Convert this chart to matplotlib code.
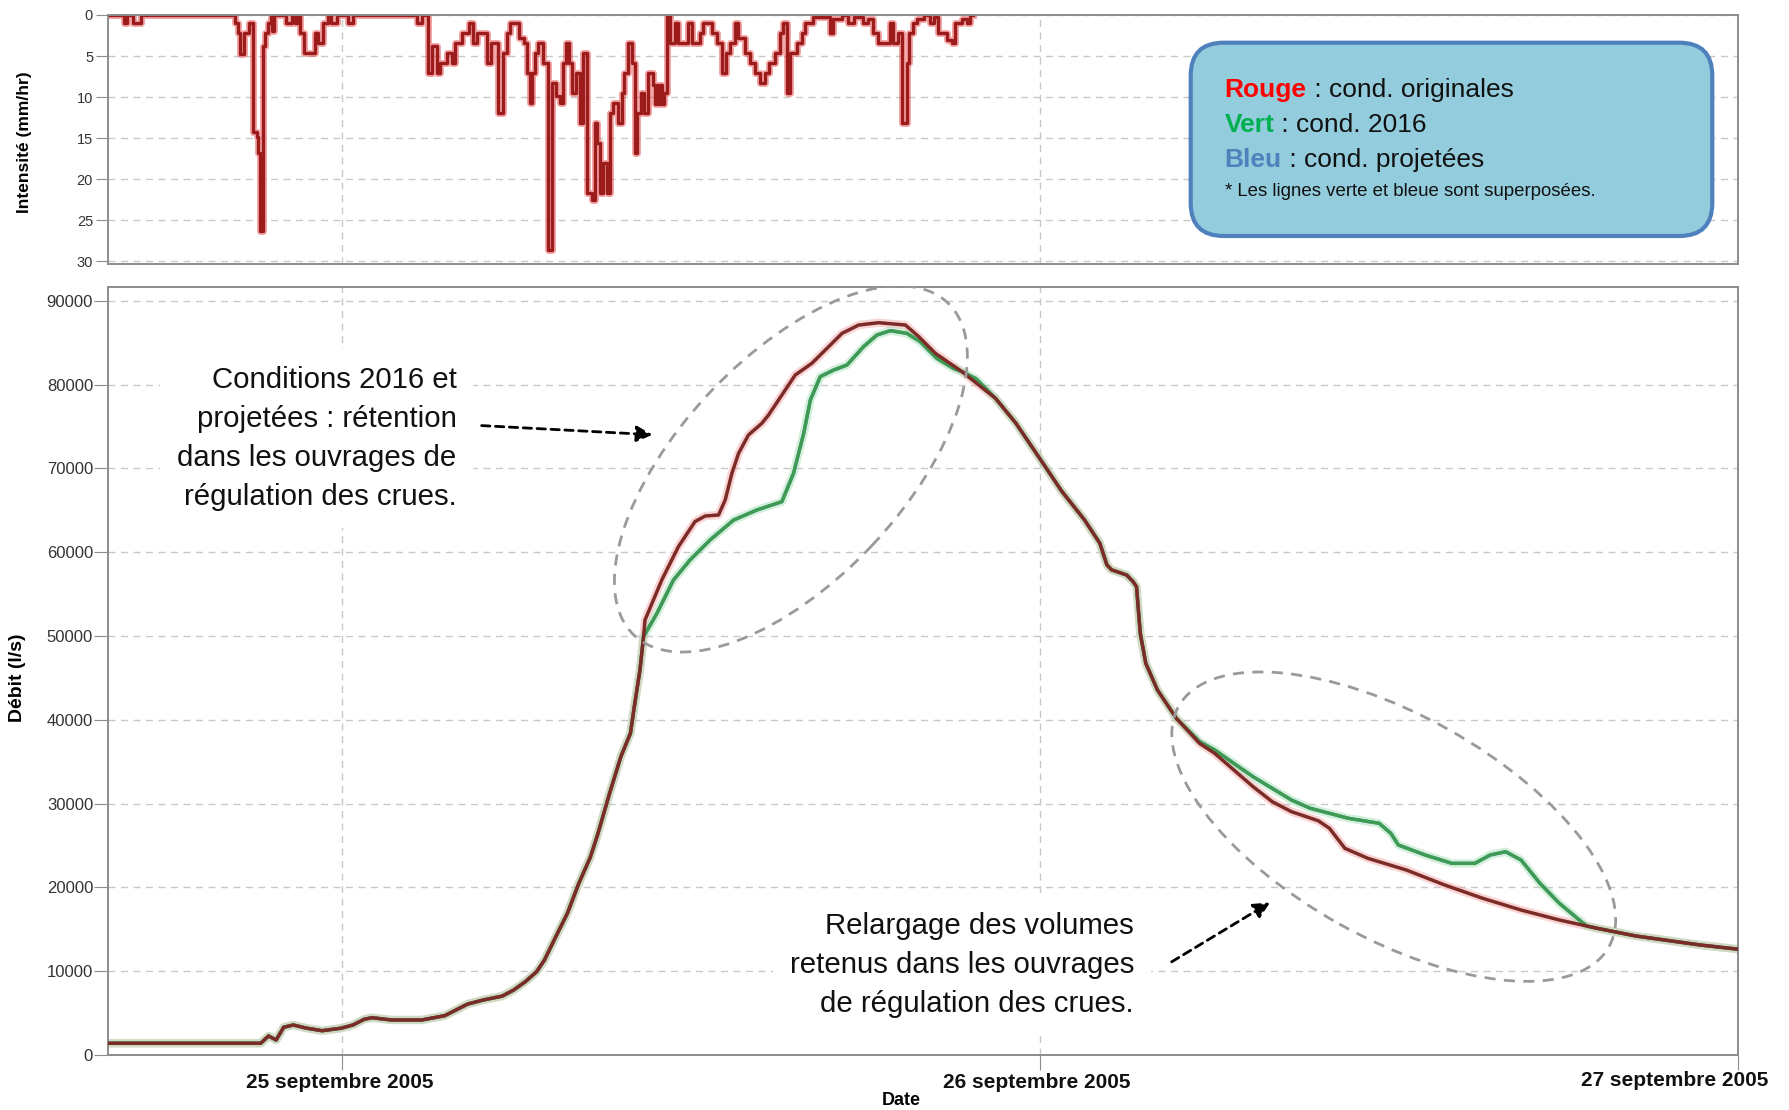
import numpy as np
import matplotlib.pyplot as plt
import matplotlib.transforms as mtransforms
from matplotlib.patches import Ellipse, FancyBboxPatch

plt.rcParams['font.family'] = ['Liberation Sans', 'DejaVu Sans']

# temps en heures depuis le 25 septembre 2005 00h00

# hyetogramme : debut de chaque palier (h) et intensite (mm/hr)
rain_t = [-8.05, -7.53, -7.42, -7.19, -6.94, -3.69, -3.58, -3.52, -3.38, -3.23,
          -3.08, -2.95, -2.89, -2.83, -2.72, -2.66, -2.55, -2.46, -2.42, -2.37,
          -1.95, -1.74, -1.62, -1.55, -1.46, -1.32, -0.94, -0.83, -0.65, -0.48,
          -0.40, -0.20, 0.21, 0.38, 2.55, 2.73, 2.96, 3.07, 3.25, 3.36,
          3.59, 3.76, 3.88, 4.10, 4.34, 4.51, 4.62, 4.97, 5.10, 5.37,
          5.54, 5.65, 5.77, 6.06, 6.25, 6.34, 6.46, 6.51, 6.63, 6.74,
          6.89, 7.09, 7.20, 7.35, 7.47, 7.58, 7.70, 7.78, 7.89, 8.03,
          8.18, 8.29, 8.43, 8.58, 8.69, 8.77, 8.86, 8.98, 9.09, 9.21,
          9.32, 9.49, 9.61, 9.69, 9.84, 9.95, 10.07, 10.15, 10.26, 10.38,
          10.53, 10.70, 10.76, 10.82, 10.88, 10.94, 11.00, 11.06, 11.16, 11.27,
          11.44, 11.56, 11.90, 12.02, 12.30, 12.42, 12.71, 12.88, 13.05, 13.20,
          13.34, 13.51, 13.62, 13.85, 14.03, 14.20, 14.37, 14.54, 14.69, 14.89,
          15.06, 15.17, 15.29, 15.40, 15.63, 15.80, 15.92, 16.20, 16.78, 16.89,
          17.20, 17.40, 17.60, 17.90, 18.10, 18.27, 18.44, 18.84, 18.96, 19.13,
          19.24, 19.41, 19.51, 19.64, 19.76, 20.00, 20.20, 20.35, 20.50, 20.79,
          20.96, 21.08, 21.31, 21.48, 21.59, 21.70]
rain_i = [0, 1, 0, 1, 0, 1, 2.2, 4.8, 2.2, 1,
          14.3, 14.8, 16.8, 26.3, 3.8, 2.2, 1, 0, 2, 0,
          1, 0, 1, 0, 2.2, 4.6, 2.2, 3.4, 1, 0,
          1, 0, 1, 0, 1, 0, 7, 3.8, 7, 5.8,
          4.6, 5.8, 3.4, 2.2, 1, 3.4, 2.2, 5.8, 3.4, 11.9,
          4.6, 2.2, 1, 2.8, 3.4, 7, 10.7, 7, 4.6, 3.4,
          5.8, 28.6, 8.3, 9.9, 10.7, 5.8, 3.4, 5.8, 9.5, 7,
          13.1, 4.6, 21.7, 22.5, 13.1, 15.6, 21.7, 18, 21.7, 11.9,
          10.7, 13.1, 9.5, 7, 3.4, 5.8, 16.8, 11.9, 9.5, 11.9,
          7, 8.5, 10.8, 8.5, 10.8, 8.5, 10.8, 9.5, 0, 3.4,
          1, 3.4, 1, 3.4, 2.2, 1, 2.2, 3.4, 7, 4.6,
          3.4, 1, 2.8, 4.6, 5.8, 7, 8.3, 7, 5.8, 4.6,
          2.2, 1, 9.5, 4.6, 3.4, 2.2, 1, 0.3, 2.2, 0.5,
          0, 1, 0.3, 1, 0.5, 2.2, 3.4, 1, 3.4, 2.2,
          13.1, 5.8, 2.2, 1, 0.5, 0, 1, 0.3, 2.2, 3,
          3.4, 1, 0.5, 1, 0, 0]

# debit - conditions originales (rouge), l/s
red_t = [-8.05, -2.81, -2.54, -2.28, -2.02, -1.69, -1.23, -0.70, -0.04, 0.36,
         0.75, 1.02, 1.68, 2.73, 3.52, 4.31, 4.84, 5.50, 5.89, 6.29,
         6.68, 6.95, 7.34, 7.74, 8.13, 8.53, 8.79, 9.19, 9.58, 9.91,
         10.04, 10.24, 10.36, 10.41, 10.99, 11.56, 12.13, 12.48, 12.94, 13.17,
         13.40, 13.63, 13.97, 14.43, 14.66, 15.12, 15.58, 16.15, 16.73, 17.19,
         17.76, 18.45, 19.37, 19.83, 20.40, 21.32, 22.47, 23.17, 23.96, 24.75,
         25.53, 26.06, 26.30, 26.46, 26.98, 27.20, 27.32, 27.45, 27.64, 28.04,
         28.69, 29.49, 30.01, 30.67, 31.33, 31.99, 32.65, 33.57, 33.96, 34.49,
         35.28, 36.60, 37.92, 39.23, 40.55, 41.87, 43.18, 44.50, 46.71, 48.0]
red_q = [1400, 1400, 2270, 1790, 3310, 3580, 3200, 2900, 3200, 3580,
         4260, 4450, 4180, 4180, 4690, 6080, 6560, 7030, 7750, 8740,
         9930, 11320, 14100, 16900, 20450, 23600, 26400, 31200, 35600, 38400,
         41500, 46000, 49900, 51900, 56700, 60660, 63650, 64320, 64440, 66230,
         69410, 71800, 73990, 75380, 76370, 78760, 81150, 82540, 84530, 86120,
         87110, 87390, 87110, 85720, 83730, 81540, 78360, 75400, 71350, 67270,
         63860, 61060, 58500, 57900, 57280, 56500, 55890, 50320, 46740, 43560,
         40180, 37190, 36000, 34010, 32020, 30230, 29040, 27960, 27050, 24660,
         23470, 22080, 20290, 18700, 17300, 16110, 15110, 14200, 13130, 12630]

# troncons ou la courbe verte (= bleue) s'ecarte de la rouge
green_seg1_t = [10.36, 10.82, 11.39, 11.96, 12.65, 13.46, 14.26, 15.12, 15.52, 15.87,
                16.10, 16.44, 16.90, 17.36, 17.93, 18.39, 18.85, 19.42, 19.88, 20.45,
                21.02, 21.32, 21.80]
green_seg1_q = [49920, 52700, 56680, 59070, 61460, 63840, 65040, 66030, 69410, 74180,
                78160, 80950, 81740, 82340, 84530, 85920, 86440, 86120, 85120, 83130,
                81940, 81540, 80700]
green_seg2_t = [28.69, 29.49, 30.01, 30.67, 31.33, 31.99, 32.65, 33.30, 34.62, 35.67,
                36.07, 36.33, 37.25, 38.17, 38.96, 39.49, 40.02, 40.55, 41.20, 41.87,
                42.80]
green_seg2_q = [40180, 37400, 36400, 34800, 33210, 31820, 30430, 29440, 28240, 27650,
                26450, 25060, 23870, 22870, 22870, 23870, 24260, 23270, 20490, 18100,
                15400]

date_ticks = [0, 24, 48]
date_labels = ['25 septembre 2005', '26 septembre 2005', '27 septembre 2005']
q_ticks = list(range(0, 90001, 10000))
i_ticks = [0, 5, 10, 15, 20, 25, 30]

red_t = np.array(red_t)
red_q = np.array(red_q)
m1 = red_t < green_seg1_t[0]
m2 = (red_t > green_seg1_t[-1]) & (red_t < green_seg2_t[0])
m3 = red_t > green_seg2_t[-1]
green_t = np.concatenate([red_t[m1], green_seg1_t, red_t[m2], green_seg2_t, red_t[m3]])
green_q = np.concatenate([red_q[m1], green_seg1_q, red_q[m2], green_seg2_q, red_q[m3]])

W, H = 1789, 1110
fig = plt.figure(figsize=(W / 100, H / 100), dpi=100)
x0, x1 = 108.4, 1737.6
ax_r = fig.add_axes([x0 / W, 1 - 263.5 / H, (x1 - x0) / W, 248.5 / H])
ax_q = fig.add_axes([x0 / W, 55 / H, (x1 - x0) / W, 767.5 / H])

spine_c = '#8c8c8c'
grid_c = '#c8c8c8'
for ax in (ax_r, ax_q):
    ax.set_xlim(-8.05, 48)
    for s in ax.spines.values():
        s.set_color(spine_c)
        s.set_linewidth(1.4)
    ax.set_xticks(date_ticks)
    ax.grid(True, ls=(0, (5, 4)), color=grid_c, lw=1)
    ax.set_axisbelow(True)

# --- hyetogramme
ax_r.step(rain_t, rain_i, where='post', color='#e8383a', lw=5, alpha=0.45, zorder=2)
ax_r.step(rain_t, rain_i, where='post', color='#9c1c1c', lw=2.4, zorder=2.2)
ax_r.set_ylim(30.25, 0)
ax_r.set_yticks(i_ticks)
ax_r.tick_params(axis='x', length=0, labelbottom=False)
ax_r.tick_params(axis='y', length=9, color=spine_c, labelsize=10.5,
                 labelcolor='#333333', pad=2)
ax_r.set_ylabel('Intensité (mm/hr)', fontsize=12.5, fontweight='bold', va='center')
ax_r.yaxis.set_label_coords(-0.0518, 0.487)

# legende (encadre bleu)
box = FancyBboxPatch((11.907, (H - 236) / 100), 5.216, 1.933,
                     boxstyle='round,pad=0,rounding_size=0.33',
                     transform=fig.dpi_scale_trans, fc='#93cddd', ec='#4f81bd',
                     lw=3, zorder=5)
ax_r.add_artist(box)
legend_rows = [('Rouge', '#ff0000', ' : cond. originales'),
               ('Vert', '#00b050', ' : cond. 2016'),
               ('Bleu', '#4f81bd', ' : cond. projetées')]
row_y = [90, 125, 160]
lx = (1224.6 - x0) / (x1 - x0)
for (word, col, rest), yy in zip(legend_rows, row_y):
    t = ax_r.text(lx, (263.5 - yy) / 248.5, word, color=col, fontsize=19,
                  fontweight='bold', va='center', ha='left',
                  transform=ax_r.transAxes, zorder=6)
    ax_r.annotate(rest, xy=(1, 0), xycoords=t, va='bottom', ha='left',
                  fontsize=19, color='#111111', zorder=6)
ax_r.text(lx, (263.5 - 191.7) / 248.5, '* Les lignes verte et bleue sont superposées.',
          fontsize=13.4, va='center', ha='left', color='#111111',
          transform=ax_r.transAxes, zorder=6)

# --- hydrogramme
ax_q.plot(red_t, red_q, color='#f2a0a0', lw=6, alpha=0.45, zorder=2)
ax_q.plot(green_t, green_q, color='#a6e0b2', lw=6, alpha=0.5, zorder=2)
ax_q.plot(green_t, green_q, color='#4f81bd', lw=2.4, zorder=3)
ax_q.plot(green_t, green_q, color='#3d9b52', lw=2.4, zorder=3.5)
ax_q.plot(red_t, red_q, color='#7d2b27', lw=2.5, zorder=4)

ax_q.set_ylim(0, 91590)
ax_q.set_yticks(q_ticks)
ax_q.set_xticklabels([])
ax_q.tick_params(axis='x', length=11, color=spine_c, direction='out')
ax_q.tick_params(axis='y', length=10, color=spine_c, labelsize=12,
                 labelcolor='#333333', pad=1)
ax_q.set_ylabel('Débit (l/s)', fontsize=14, fontweight='bold', va='center')
ax_q.yaxis.set_label_coords(-0.0555, 0.491)
ax_q.set_xlabel('Date', fontsize=13, fontweight='bold', va='center')
ax_q.xaxis.set_label_coords(0.4865, -0.059)

for xt, lab in zip(date_ticks, date_labels):
    last = xt == date_ticks[-1]
    ax_q.annotate(lab, xy=(xt, 0), xycoords=('data', 'axes fraction'),
                  xytext=(22 if last else -2, -18 if last else -20),
                  textcoords='offset points', ha='right' if last else 'center',
                  va='center', fontsize=15, fontweight='bold', color='#111111',
                  annotation_clip=False)


def add_ellipse(ax, xy, w_px, h_px, angle):
    tr = fig.dpi_scale_trans + mtransforms.ScaledTranslation(xy[0], xy[1], ax.transData)
    e = Ellipse((0, 0), w_px / 100, h_px / 100, angle=angle, transform=tr,
                fill=False, ec='#9a9a9a', lw=2, ls=(0, (4, 3)), zorder=5)
    ax.add_artist(e)


add_ellipse(ax_q, (15.43, 69930), 457, 223, 46.7)
add_ellipse(ax_q, (36.17, 27250), 493, 223, -29.2)

arrow_kw = dict(arrowstyle='-|>', ls=(0, (3, 2)), lw=2, color='black',
                mutation_scale=24, shrinkA=0, shrinkB=0)
ax_q.annotate('', xy=(10.67, 74020), xytext=(4.79, 75110), arrowprops=arrow_kw, zorder=6)
ax_q.annotate('', xy=(31.91, 18200), xytext=(28.53, 11120), arrowprops=arrow_kw, zorder=6)

ax_q.text(0.2136, 0.803,
          'Conditions 2016 et\nprojetées : rétention\ndans les ouvrages de\nrégulation des crues.',
          transform=ax_q.transAxes, ha='right', va='center', fontsize=21.2,
          linespacing=1.5, color='#111111', zorder=6,
          bbox=dict(fc='white', ec='none', pad=12))
ax_q.text(0.6295, 0.117,
          'Relargage des volumes\nretenus dans les ouvrages\nde régulation des crues.',
          transform=ax_q.transAxes, ha='right', va='center', fontsize=21.2,
          linespacing=1.5, color='#111111', zorder=6,
          bbox=dict(fc='white', ec='none', pad=12))

fig.savefig('out.png', dpi=100)
